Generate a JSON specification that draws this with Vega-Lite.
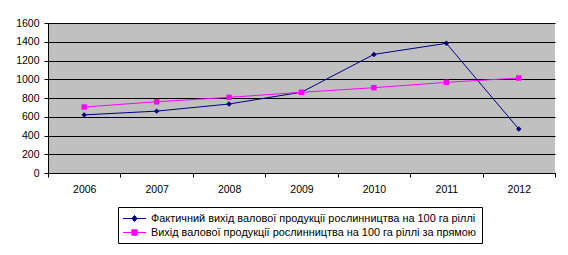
{
  "$schema": "https://vega.github.io/schema/vega-lite/v6.json",
  "width": 507,
  "height": 150,
  "autosize": "none",
  "padding": {"left": 48, "top": 23, "right": 13, "bottom": 82},
  "background": "white",
  "config": {
    "view": {"fill": "#C0C0C0", "stroke": null},
    "font": "Liberation Sans",
    "axis": {"labelFont": "Liberation Sans", "labelColor": "black", "domainColor": "black", "tickColor": "black", "gridColor": "black", "gridOpacity": 1, "domainWidth": 1, "tickWidth": 1, "gridWidth": 1, "title": null}
  },
  "data": {"values": [
    {"year": "2006", "series": "Фактичний вихід валової продукції рослинництва на 100 га ріллі", "value": 620},
    {"year": "2007", "series": "Фактичний вихід валової продукції рослинництва на 100 га ріллі", "value": 660},
    {"year": "2008", "series": "Фактичний вихід валової продукції рослинництва на 100 га ріллі", "value": 736},
    {"year": "2009", "series": "Фактичний вихід валової продукції рослинництва на 100 га ріллі", "value": 862},
    {"year": "2010", "series": "Фактичний вихід валової продукції рослинництва на 100 га ріллі", "value": 1265},
    {"year": "2011", "series": "Фактичний вихід валової продукції рослинництва на 100 га ріллі", "value": 1383},
    {"year": "2012", "series": "Фактичний вихід валової продукції рослинництва на 100 га ріллі", "value": 469},
    {"year": "2006", "series": "Вихід валової продукції рослинництва на 100 га ріллі за прямою", "value": 704},
    {"year": "2007", "series": "Вихід валової продукції рослинництва на 100 га ріллі за прямою", "value": 760},
    {"year": "2008", "series": "Вихід валової продукції рослинництва на 100 га ріллі за прямою", "value": 807},
    {"year": "2009", "series": "Вихід валової продукції рослинництва на 100 га ріллі за прямою", "value": 861},
    {"year": "2010", "series": "Вихід валової продукції рослинництва на 100 га ріллі за прямою", "value": 910},
    {"year": "2011", "series": "Вихід валової продукції рослинництва на 100 га ріллі за прямою", "value": 967},
    {"year": "2012", "series": "Вихід валової продукції рослинництва на 100 га ріллі за прямою", "value": 1013}
  ]},
  "encoding": {
    "x": {"field": "year", "type": "ordinal", "scale": {"paddingInner": 0, "paddingOuter": 0},
      "axis": {"labelAngle": 0, "tickBand": "extent", "tickSize": 4, "labelPadding": 7, "labelFontSize": 10.5, "grid": false}},
    "y": {"field": "value", "type": "quantitative", "scale": {"domain": [0, 1600], "nice": false},
      "axis": {"values": [0, 200, 400, 600, 800, 1000, 1200, 1400, 1600], "format": "d", "tickSize": 4, "labelPadding": 5, "labelFontSize": 10.5, "grid": true}},
    "color": {"field": "series", "type": "nominal",
      "scale": {"domain": ["Фактичний вихід валової продукції рослинництва на 100 га ріллі", "Вихід валової продукції рослинництва на 100 га ріллі за прямою"], "range": ["#000080", "#FF00FF"]},
      "legend": {
        "title": null, "orient": "none", "legendX": 70, "legendY": 184,
        "strokeColor": "black", "padding": 5, "rowPadding": 2,
        "labelFont": "Liberation Sans", "labelFontSize": 10.9, "labelColor": "black", "labelLimit": 600, "labelOffset": 10,
        "symbolSize": 144, "symbolStrokeWidth": 1, "symbolOffset": 5,
        "encode": {"symbols": {"update": {
          "shape": {"signal": "datum.index === 0 ? 'M-1.917,0H1.917M0,-0.5L0.42,0L0,0.5L-0.42,0Z' : 'M-1.917,0H1.917M-0.45,-0.45H0.45V0.45H-0.45Z'"},
          "fill": {"scale": "color", "field": "value"},
          "stroke": {"scale": "color", "field": "value"},
          "strokeWidth": {"value": 1},
          "opacity": {"value": 1}
        }}}
      }}
  },
  "layer": [
    {"mark": {"type": "line", "strokeWidth": 1}},
    {"mark": {"type": "point", "filled": true, "opacity": 1, "size": 30},
      "encoding": {"shape": {"condition": {"test": "datum.series === 'Фактичний вихід валової продукції рослинництва на 100 га ріллі'", "value": "diamond"}, "value": "square"}}}
  ]
}
